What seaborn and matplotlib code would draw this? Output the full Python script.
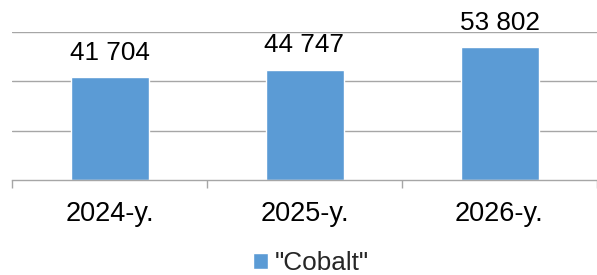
import matplotlib
matplotlib.use("Agg")
import matplotlib.pyplot as plt
import seaborn as sns
import pandas as pd

years = ["2024-y.", "2025-y.", "2026-y."]
values = [41704, 44747, 53802]
value_labels = ["41 704", "44 747", "53 802"]
series_name = '"Cobalt"'
grid_values = [20000, 40000, 60000]

sns.set_theme(style="white")
plt.rcParams["font.family"] = ["Liberation Sans", "DejaVu Sans"]

FS = 18.8
FS_TICK = 19.5
GRID = "#A6A6A6"

fig = plt.figure(figsize=(5.97, 2.75), dpi=100)
ax = fig.add_axes([12 / 597, 1 - 180 / 275, 585 / 597, 148 / 275])

df = pd.DataFrame({"year": years, "value": values, "series": series_name})
sns.barplot(data=df, x="year", y="value", hue="series", palette=["#5B9BD5"],
            width=0.4, ax=ax, saturation=1)

ax.set_xlim(-0.5, 2.5)
ax.set_ylim(0, 60000)
ax.set_yticks(grid_values)
ax.yaxis.grid(True, color=GRID, lw=1)
ax.set_axisbelow(True)
ax.tick_params(axis="y", length=0, labelleft=False)
ax.set_xlabel("")
ax.set_ylabel("")
for s in ["left", "right", "top"]:
    ax.spines[s].set_visible(False)
ax.spines["bottom"].set_color(GRID)
ax.spines["bottom"].set_linewidth(1)

ax.set_xticks(range(len(years)))
ax.set_xticklabels(years, fontsize=FS_TICK, color="black")
ax.tick_params(axis="x", which="major", length=0, pad=15)
ax.set_xticks([-0.5, 0.5, 1.5, 2.5], minor=True)
ax.tick_params(axis="x", which="minor", length=6, width=1, color=GRID, direction="out", bottom=True)

for i, (v, lab) in enumerate(zip(values, value_labels)):
    ax.annotate(lab, (i, v), xytext=(0, 17.5), textcoords="offset points",
                ha="center", va="center", fontsize=FS, color="black",
                annotation_clip=False)

handles, labels = ax.get_legend_handles_labels()
if ax.get_legend() is not None:
    ax.get_legend().remove()
fig.legend(handles, labels, loc="center", bbox_to_anchor=(311 / 597, 1 - 263 / 275),
           frameon=False, fontsize=FS, handlelength=0.55, handleheight=0.55,
           handletextpad=0.25, borderaxespad=0, borderpad=0)

fig.savefig("out.png", dpi=100)
